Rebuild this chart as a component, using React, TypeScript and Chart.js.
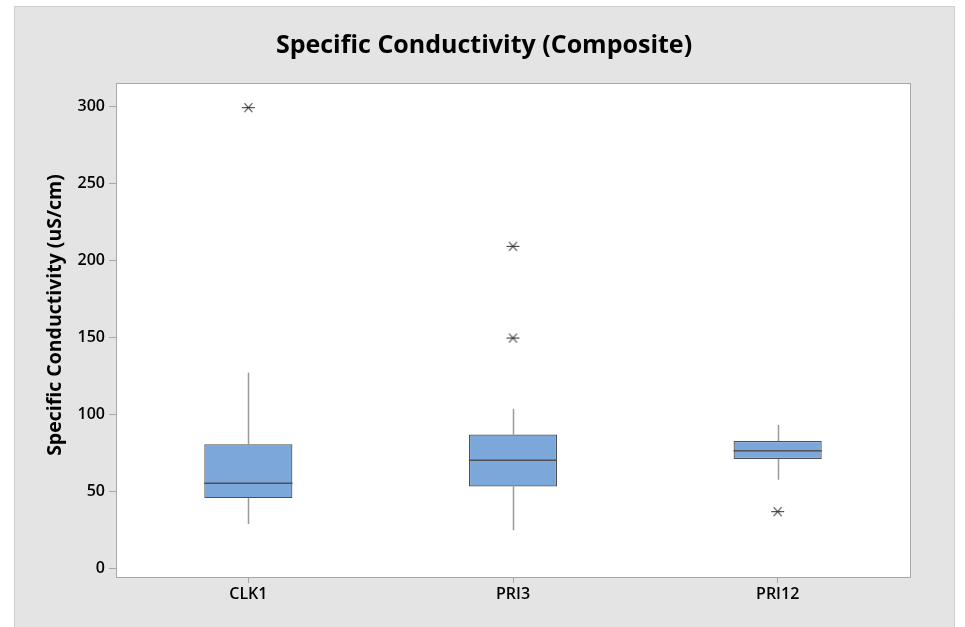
import React, { useEffect, useRef } from 'react';
import { Chart, registerables } from 'chart.js';

Chart.register(...registerables);

// ---- data ----
const categories = ['CLK1', 'PRI3', 'PRI12'];
const q1Values = [45.6, 53.2, 71.0];
const medianValues = [55.2, 70.1, 76.4];
const q3Values = [80.5, 86.8, 82.7];
const whiskerLow = [28.8, 24.7, 57.5];
const whiskerHigh = [127, 103.6, 93];
const outlierCategories = ['CLK1', 'PRI3', 'PRI3', 'PRI12'];
const outlierValues = [299, 209, 149.5, 36.8];
const yTicks = [0, 50, 100, 150, 200, 250, 300];
const yMin = -5.6;
const yMax = 315;
const chartTitle = 'Specific Conductivity (Composite)';
const yTitle = 'Specific Conductivity (uS/cm)';

const FONT = "'Open Sans', 'Noto Sans', sans-serif";

function makeStar(): HTMLCanvasElement {
  const c = document.createElement('canvas');
  c.width = 15;
  c.height = 15;
  const g = c.getContext('2d')!;
  g.strokeStyle = '#303030';
  g.lineWidth = 1.1;
  g.beginPath();
  g.moveTo(1, 7.5);
  g.lineTo(14, 7.5);
  g.moveTo(3.5, 3);
  g.lineTo(11.5, 12);
  g.moveTo(11.5, 3);
  g.lineTo(3.5, 12);
  g.stroke();
  return c;
}

const boxPlugin = {
  id: 'boxPlugin',
  beforeDraw(chart: any) {
    const { ctx, width, height, chartArea } = chart;
    ctx.save();
    ctx.fillStyle = '#ffffff';
    ctx.fillRect(0, 0, width, height);
    ctx.fillStyle = '#e4e4e4';
    ctx.fillRect(14, 6, 940, height - 6);
    ctx.strokeStyle = '#cdcdcd';
    ctx.lineWidth = 1;
    ctx.beginPath();
    ctx.moveTo(14.5, height);
    ctx.lineTo(14.5, 6.5);
    ctx.lineTo(954.5, 6.5);
    ctx.lineTo(954.5, height);
    ctx.stroke();
    ctx.fillStyle = '#ffffff';
    ctx.fillRect(chartArea.left, chartArea.top, chartArea.right - chartArea.left, chartArea.bottom - chartArea.top);
    ctx.strokeStyle = '#a8a8a8';
    ctx.strokeRect(chartArea.left + 0.5, chartArea.top + 0.5, chartArea.right - chartArea.left, chartArea.bottom - chartArea.top);
    // titles
    ctx.fillStyle = '#000000';
    ctx.textAlign = 'center';
    ctx.textBaseline = 'middle';
    ctx.font = `bold 25px ${FONT}`;
    ctx.fillText(chartTitle, 484, 46);
    ctx.save();
    ctx.translate(55, 315);
    ctx.rotate(-Math.PI / 2);
    ctx.font = `bold 19.5px ${FONT}`;
    ctx.fillText(yTitle, 0, 0);
    ctx.restore();
    ctx.restore();
  },
  beforeDatasetsDraw(chart: any) {
    const { ctx } = chart;
    const yScale = chart.scales.y;
    const meta = chart.getDatasetMeta(0);
    ctx.save();
    ctx.strokeStyle = '#9a9a9a';
    ctx.lineWidth = 1.5;
    meta.data.forEach((bar: any, i: number) => {
      const x = Math.round(bar.x) + 0.5;
      ctx.beginPath();
      ctx.moveTo(x, yScale.getPixelForValue(q3Values[i]));
      ctx.lineTo(x, yScale.getPixelForValue(whiskerHigh[i]));
      ctx.moveTo(x, yScale.getPixelForValue(q1Values[i]));
      ctx.lineTo(x, yScale.getPixelForValue(whiskerLow[i]));
      ctx.stroke();
    });
    ctx.restore();
  },
  afterDatasetDraw(chart: any, args: any) {
    if (args.index !== 0) return;
    const { ctx } = chart;
    const yScale = chart.scales.y;
    const meta = chart.getDatasetMeta(0);
    ctx.save();
    ctx.strokeStyle = '#505050';
    ctx.lineWidth = 1.5;
    meta.data.forEach((bar: any, i: number) => {
      const y = yScale.getPixelForValue(medianValues[i]);
      ctx.beginPath();
      ctx.moveTo(bar.x - bar.width / 2, y);
      ctx.lineTo(bar.x + bar.width / 2, y);
      ctx.stroke();
    });
    ctx.restore();
  },
};

export default function App() {
  const ref = useRef<HTMLCanvasElement | null>(null);
  useEffect(() => {
    if (!ref.current) return;
    const star = makeStar();
    const chart = new Chart(ref.current, {
      type: 'bar',
      data: {
        labels: categories,
        datasets: [
          {
            type: 'bar',
            data: categories.map((_, i) => [q1Values[i], q3Values[i]]) as any,
            backgroundColor: '#7ba7da',
            borderColor: '#505050',
            borderWidth: 1.2,
            borderSkipped: false,
            categoryPercentage: 0.333,
            barPercentage: 1,
            order: 2,
          },
          {
            type: 'line',
            data: outlierCategories.map((c, i) => ({ x: c, y: outlierValues[i] })) as any,
            showLine: false,
            pointStyle: star as any,
            pointRadius: 6,
            pointHoverRadius: 6,
            order: 1,
          },
        ],
      },
      options: {
        responsive: false,
        animation: false,
        events: [],
        layout: { padding: { top: 83, right: 55, left: 0, bottom: 0 } },
        plugins: { legend: { display: false }, tooltip: { enabled: false }, title: { display: false } },
        scales: {
          x: {
            type: 'category',
            offset: true,
            grid: { display: true, offset: false, drawOnChartArea: false, drawTicks: true, tickLength: 6, color: '#a8a8a8' },
            border: { display: false },
            ticks: { color: '#000', padding: 2, font: { family: FONT, size: 16, weight: '600' } },
            afterFit: (s: any) => { s.height = 50; },
          },
          y: {
            type: 'linear',
            min: yMin,
            max: yMax,
            grid: { display: true, drawOnChartArea: false, drawTicks: true, tickLength: 7, color: '#a8a8a8' },
            border: { display: false },
            ticks: { color: '#000', padding: 4, font: { family: FONT, size: 16, weight: '600' } },
            afterBuildTicks: (s: any) => { s.ticks = yTicks.map((v) => ({ value: v })); },
            afterFit: (s: any) => { s.width = 116; },
          },
        },
      },
      plugins: [boxPlugin],
    });
    return () => chart.destroy();
  }, []);
  return (
    <div style={{ position: 'absolute', left: 0, top: 0, width: 965, height: 627 }}>
      <canvas ref={ref} width={965} height={627} style={{ display: 'block' }} />
    </div>
  );
}
